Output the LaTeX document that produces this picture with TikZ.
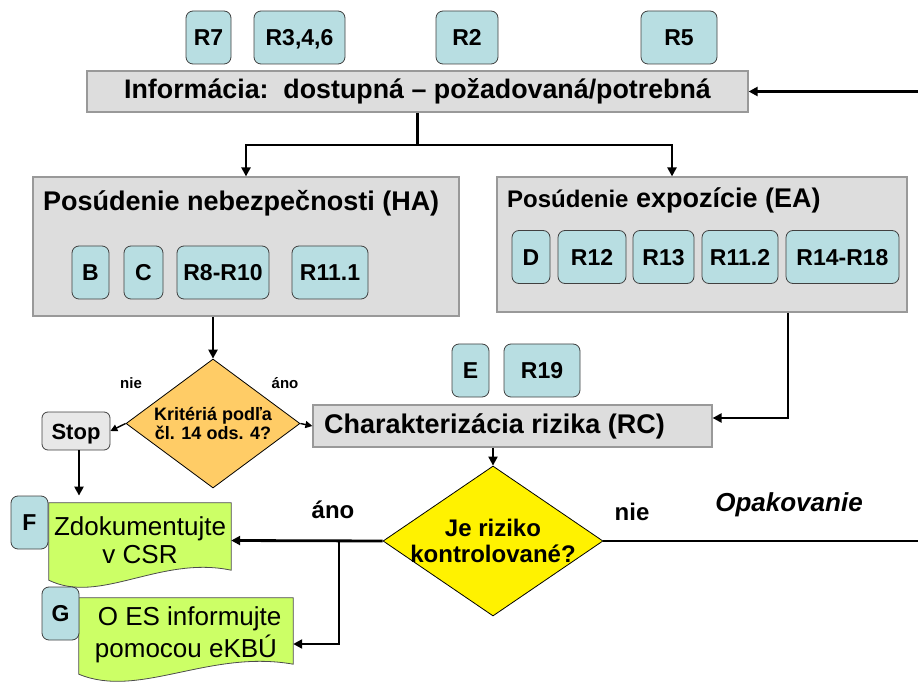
\documentclass[tikz,border=0pt]{standalone}
\usepackage{fontspec}
\setmainfont{Liberation Sans}
\usetikzlibrary{shapes.geometric, arrows.meta, backgrounds}

\definecolor{tagcyan}{RGB}{184,222,226}
\definecolor{panelgray}{RGB}{221,221,221}
\definecolor{critorange}{RGB}{255,204,102}
\definecolor{docgreen}{RGB}{204,255,102}
\definecolor{stopgray}{RGB}{232,232,232}

\tikzstyle{tag} = [rectangle, rounded corners=7pt, minimum height=53pt, inner sep=0pt, text height=16.5pt, text depth=0pt, text centered, draw=black!75, line width=0.8pt, fill=tagcyan, font={\fontsize{23}{23}\selectfont\bfseries}]
\tikzstyle{panel} = [rectangle, inner sep=0pt, draw=black!40, line width=1.2pt, fill=panelgray]
\tikzstyle{heading} = [inner sep=0pt, font={\fontsize{27}{27}\selectfont\bfseries}]
\tikzstyle{decision} = [diamond, inner sep=0pt, draw=black, line width=0.8pt]
\tikzstyle{question} = [inner sep=0pt, align=center]
\tikzstyle{doc} = [rectangle, inner sep=0pt, align=center, font={\fontsize{26}{28}\selectfont}]
\tikzstyle{docshape} = [draw=black!70, line width=0.8pt, fill=docgreen]
\tikzstyle{answer} = [inner sep=0pt, font={\fontsize{24}{24}\selectfont\bfseries}]
\tikzstyle{line} = [line width=2.8pt]
\tikzstyle{arrow} = [line width=2.8pt, -{Triangle[length=9pt, width=9pt]}]
\tikzstyle{thinarrow} = [line width=1.4pt, -{Triangle[length=7pt, width=7pt]}]

\begin{document}
\begin{tikzpicture}[x=1pt, y=-1pt]
\useasboundingbox (0,0) rectangle (918,684);

% information
\node (r7) [tag, minimum width=45pt] at (208.5,37.5) {R7};
\node (r346) [tag, minimum width=91pt] at (299.5,37.5) {R3,4,6};
\node (r2) [tag, minimum width=62pt] at (467,37.5) {R2};
\node (r5) [tag, minimum width=76pt] at (679,37.5) {R5};
\node (info) [panel, minimum width=661pt, minimum height=41pt, font={\fontsize{26.8}{27}\selectfont\bfseries}] at (417.5,91.5) {Informácia:\ \ dostupná – požadovaná/potrebná};

% hazard assessment
\node (ha) [panel, minimum width=426pt, minimum height=139pt] at (246,246.5) {};
\node (hatitle) [heading, anchor=west] at (43,203) {Posúdenie nebezpečnosti (HA)};
\node (b) [tag, minimum width=37pt] at (90.5,272.5) {B};
\node (c) [tag, minimum width=39pt] at (143.5,272.5) {C};
\node (r810) [tag, minimum width=92pt] at (223,272.5) {R8-R10};
\node (r111) [tag, minimum width=76pt] at (330,272.5) {R11.1};

% exposure assessment
\node (ea) [panel, minimum width=410pt, minimum height=135pt] at (702,244.5) {};
\node (eatitle) [heading, anchor=west] at (507,200) {{\fontsize{24}{24}\selectfont Posúdenie} expozície (EA)};
\node (d) [tag, minimum width=38pt] at (531,257) {D};
\node (r12) [tag, minimum width=68pt] at (592,257) {R12};
\node (r13) [tag, minimum width=61pt] at (663.5,257) {R13};
\node (r112) [tag, minimum width=76pt] at (740,257) {R11.2};
\node (r1418) [tag, minimum width=113pt] at (842.5,257) {R14-R18};

% criteria and risk characterisation
\node (crit) [decision, fill=critorange, minimum width=174pt, minimum height=129pt] at (213,423.5) {};
\node (critq) [question, font={\fontsize{18}{19}\selectfont\bfseries}] at (crit.center) {Kritériá podľa\\čl. 14 ods. 4?};
\node (stop) [rectangle, rounded corners=6pt, draw=black!75, line width=0.8pt, fill=stopgray, minimum width=68pt, minimum height=38pt, inner sep=0pt, text height=16pt, text depth=0pt, font={\fontsize{22}{22}\selectfont\bfseries}] at (76,431) {Stop};
\node (nie1) [answer, font={\fontsize{15}{15}\selectfont\bfseries}] at (131,383) {nie};
\node (ano1) [answer, font={\fontsize{15}{15}\selectfont\bfseries}] at (285,383) {áno};
\node (e) [tag, minimum width=37pt] at (470.5,370.5) {E};
\node (r19) [tag, minimum width=76pt] at (542,370.5) {R19};
\node (rc) [panel, minimum width=399pt, minimum height=42pt] at (512.5,426) {};
\node (rctitle) [heading, anchor=west] at (324,426) {Charakterizácia rizika (RC)};

% control decision
\node (ctrl) [decision, fill=yellow, minimum width=220pt, minimum height=150pt] at (493,541) {};
\node (ctrlq) [question, font={\fontsize{24}{26}\selectfont\bfseries}] at (ctrl.center) {Je riziko\\kontrolované?};
\node (ano2) [answer] at (333,510) {áno};
\node (nie2) [answer] at (632,512) {nie};
\node (opak) [answer, font={\fontsize{26}{26}\selectfont\bfseries\itshape}] at (789,505) {Opakovanie};

% documents
\node (fdoc) [doc, minimum width=182pt, minimum height=75pt] at (140,540.5) {Zdokumentujte\\v CSR};
\node (gdoc) [doc, minimum width=214pt, minimum height=74pt, font={\fontsize{26}{32}\selectfont}] at (186,635) {\ O ES informujte\\pomocou eKBÚ};
\begin{scope}[on background layer]
\draw [docshape] (fdoc.north west) -- (fdoc.north east) -- ([yshift=8pt]fdoc.south east) .. controls +(-71,-15) and +(51,25) .. ([yshift=-2pt]fdoc.south west) -- cycle;
\draw [docshape] (gdoc.north west) -- (gdoc.north east) -- ([yshift=8pt]gdoc.south east) .. controls +(-84,-15) and +(60,25) .. ([yshift=-2pt]gdoc.south west) -- cycle;
\end{scope}
\node (ftag) [tag, minimum width=37pt] at (29.5,522.5) {F};
\node (gtag) [tag, minimum width=37pt] at (60.5,613.5) {G};

% connectors
\coordinate (retin) at (918,91.5);
\coordinate (split) at (417.5,145);
\coordinate (br) at (339,541);
\coordinate (repeat) at (918,541);

\draw [arrow] (retin) -- (info.east);
\draw [line] (info.south) -- (split);
\draw [arrow] (split) -| (ha.north);
\draw [arrow] (split) -| ([xshift=-30pt]ea.north);
\draw [arrow] (ha.south -| crit.north) -- (crit.north);
\draw [thinarrow] (crit.west) -- (stop.east);
\draw [thinarrow] (crit.east) -- (rc.west);
\draw [arrow] ([xshift=86pt]ea.south) |- ([yshift=8pt]rc.east);
\draw [arrow] ([xshift=3pt]stop.south) -- ([xshift=3pt]stop.south |- ftag.north);
\draw [arrow, line width=2pt] (rc.south -| ctrl.north) -- (ctrl.north);
\draw [arrow] (ctrl.west) -- (fdoc.east);
\draw [arrow] (br) |- ([yshift=-9pt]gdoc.east);
\draw [line] (ctrl.east) -- (repeat);

\end{tikzpicture}
\end{document}
